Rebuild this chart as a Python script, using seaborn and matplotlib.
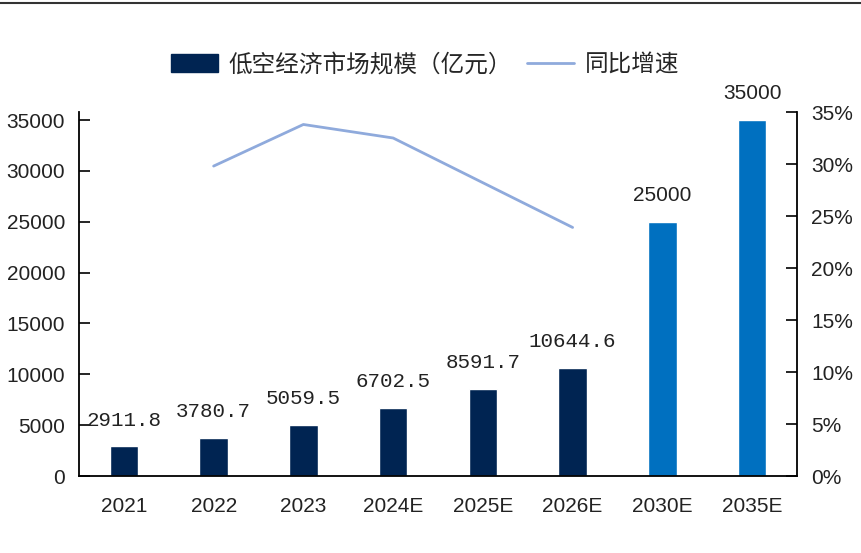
import matplotlib.pyplot as plt
import seaborn as sns
import pandas as pd
from matplotlib.patches import Patch
from matplotlib.lines import Line2D
from matplotlib.ticker import PercentFormatter

# 数据
years = ['2021', '2022', '2023', '2024E', '2025E', '2026E', '2030E', '2035E']
market = [2911.8, 3780.7, 5059.5, 6702.5, 8591.7, 10644.6, 25000, 35000]
labels = ['2911.8', '3780.7', '5059.5', '6702.5', '8591.7', '10644.6', '25000', '35000']
growth_years = ['2022', '2023', '2024E', '2025E', '2026E']
growth = [29.8, 33.8, 32.5, 28.2, 23.9]

navy = '#002452'
blue = '#0070C0'
line_c = '#8FAADC'
colors = [navy] * 6 + [blue] * 2

sns.set_style('white')
plt.rcParams['font.family'] = ['Liberation Sans', 'Noto Sans CJK SC', 'DejaVu Sans']

fig = plt.figure(figsize=(8.61, 5.53), dpi=100)
ax = fig.add_axes([79 / 861, 77 / 553, 718 / 861, 364 / 553])

df = pd.DataFrame({'year': years, 'value': market})
sns.barplot(data=df, x='year', y='value', hue='year', palette=colors,
            width=0.32, legend=False, ax=ax, saturation=1)

ax.set_xlim(-0.5, len(years) - 0.5)
ax.set_ylim(0, 35000 * 364 / 356)
ax.set_yticks(range(0, 35001, 5000))
ax.set_xlabel('')
ax.set_ylabel('')
ax.tick_params(axis='y', direction='in', length=8, width=1.2, labelsize=15,
               colors='black', labelcolor='#222222', pad=10)
ax.tick_params(axis='x', length=0, labelsize=15, labelcolor='#222222', pad=15)

# 数值标签
for i, (v, t) in enumerate(zip(market, labels)):
    fam = ['Liberation Sans'] if i >= 6 else ['Liberation Mono', 'DejaVu Sans']
    ax.annotate(t, (i, v), xytext=(0, 12), textcoords='offset points',
                ha='center', va='bottom', fontsize=15, color='#222222',
                family=fam)

# 同比增速
ax2 = ax.twinx()
gx = [years.index(y) for y in growth_years]
sns.lineplot(x=gx, y=growth, color=line_c, linewidth=2, ax=ax2)
ax2.set_ylim(0, 35)
ax2.set_yticks(range(0, 36, 5))
ax2.yaxis.set_major_formatter(PercentFormatter(decimals=0))
ax2.tick_params(axis='y', direction='in', length=8, width=1.2, labelsize=15,
                colors='black', labelcolor='#222222', pad=10)
ax2.set_xlim(-0.5, len(years) - 0.5)

for a in (ax, ax2):
    a.spines['top'].set_visible(False)
    for s in ('left', 'right', 'bottom'):
        a.spines[s].set_color('black')
        a.spines[s].set_linewidth(1.3)
ax.spines['right'].set_visible(False)
ax2.spines['left'].set_visible(False)
ax2.spines['bottom'].set_visible(False)

# 图例
handles = [Patch(facecolor=navy, edgecolor=navy),
           Line2D([0], [0], color=line_c, linewidth=2)]
fig.legend(handles, ['低空经济市场规模（亿元）', '同比增速'], ncol=2,
           loc='center', bbox_to_anchor=(425 / 861, 1 - 65 / 553),
           frameon=False, handlelength=2.0, handleheight=0.8,
           columnspacing=0.6, handletextpad=0.45,
           prop={'family': ['Noto Sans CJK SC', 'DejaVu Sans'], 'size': 17})

# 顶部横线
fig.add_artist(Line2D([0, 1], [1 - 3 / 553, 1 - 3 / 553], color='#333333',
                      linewidth=1.5, transform=fig.transFigure))

fig.savefig('out.png', dpi=100)
